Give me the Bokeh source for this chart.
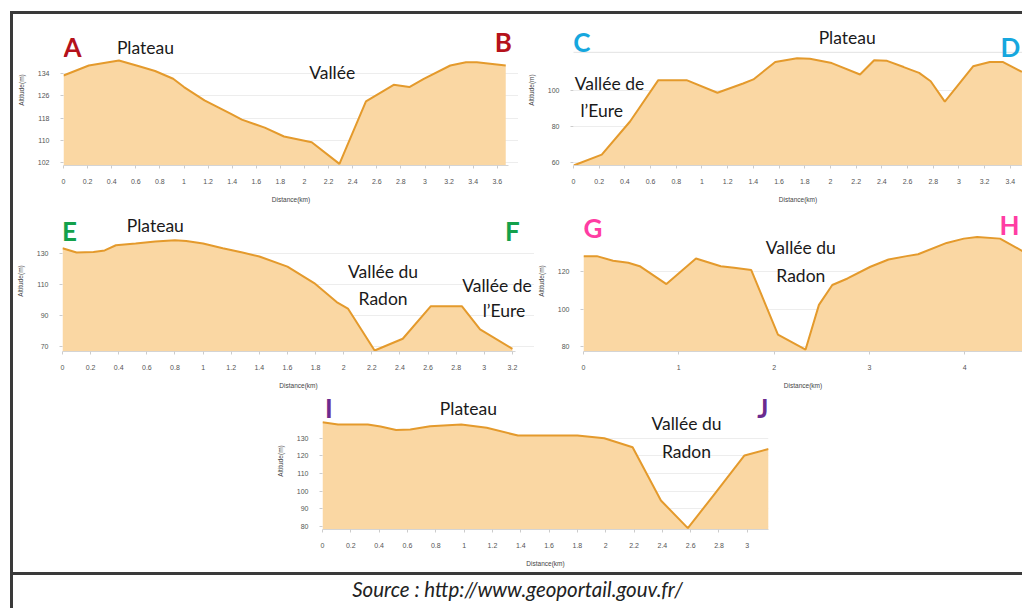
from bokeh.plotting import figure
from bokeh.models import Range1d, FixedTicker, Label, Span, Div, Spacer, ColumnDataSource
from bokeh.layouts import row, column
from bokeh.embed import file_html
from bokeh.resources import INLINE

# ---------------- data ----------------
ab_km = [0, 0.21, 0.46, 0.62, 0.76, 0.91, 1.0, 1.17, 1.39, 1.48, 1.67, 1.83, 2.06, 2.29, 2.51, 2.74, 2.87, 2.99, 3.21, 3.34, 3.43, 3.67]
ab_alt = [133.4, 137.0, 138.8, 136.8, 135.0, 132.2, 129.2, 124.4, 119.5, 117.4, 114.5, 111.3, 109.2, 101.4, 124.0, 130.0, 129.2, 132.2, 137.0, 138.2, 138.2, 137.0]

cd_km = [0, 0.22, 0.44, 0.66, 0.88, 1.12, 1.32, 1.40, 1.57, 1.74, 1.84, 2.01, 2.23, 2.34, 2.44, 2.57, 2.69, 2.78, 2.89, 3.11, 3.24, 3.34, 3.49]
cd_alt = [58.5, 64.5, 82.7, 105.4, 105.4, 98.5, 103.6, 105.8, 115.4, 117.5, 117.2, 114.8, 108.5, 116.3, 116.0, 112.6, 109.4, 104.8, 93.6, 113.0, 115.4, 115.4, 110.0]

ef_km = [0, 0.1, 0.22, 0.3, 0.38, 0.52, 0.66, 0.8, 0.88, 1.0, 1.14, 1.28, 1.4, 1.6, 1.79, 1.95, 2.03, 2.22, 2.42, 2.62, 2.84, 2.97, 3.2]
ef_alt = [133.4, 130.6, 131.0, 132.0, 135.3, 136.4, 137.7, 138.5, 138.1, 136.4, 133.4, 130.6, 128.1, 121.5, 110.9, 98.7, 94.5, 67.4, 75.0, 96.0, 96.0, 81.0, 68.5]

gh_km = [0, 0.14, 0.31, 0.47, 0.59, 0.87, 1.18, 1.44, 1.58, 1.76, 2.04, 2.33, 2.47, 2.61, 2.77, 3.01, 3.2, 3.39, 3.51, 3.81, 3.99, 4.13, 4.37, 4.62]
gh_alt = [128.4, 128.4, 125.9, 124.8, 123.0, 113.4, 127.1, 123.0, 122.1, 120.9, 86.2, 78.2, 102.2, 112.9, 116.4, 122.7, 126.6, 128.4, 129.4, 135.5, 137.8, 138.7, 137.8, 130.7]

ij_km = [0, 0.11, 0.32, 0.41, 0.52, 0.62, 0.76, 0.98, 1.16, 1.38, 1.47, 1.8, 1.99, 2.19, 2.39, 2.58, 2.76, 2.98, 3.15]
ij_alt = [139.1, 137.8, 137.8, 136.6, 134.7, 134.9, 136.8, 137.8, 135.9, 131.5, 131.5, 131.5, 130.0, 124.9, 94.6, 78.9, 97.4, 120.2, 123.9]

ab_xticks = [0, 0.2, 0.4, 0.6, 0.8, 1, 1.2, 1.4, 1.6, 1.8, 2, 2.2, 2.4, 2.6, 2.8, 3, 3.2, 3.4, 3.6]
ab_xlabels = ["0", "0.2", "0.4", "0.6", "0.8", "1", "1.2", "1.4", "1.6", "1.8", "2", "2.2", "2.4", "2.6", "2.8", "3", "3.2", "3.4", "3.6"]
ab_yticks = [102, 110, 118, 126, 134]

cd_xticks = ab_xticks[:18]
cd_xlabels = ab_xlabels[:18]
cd_yticks = [60, 80, 100]

ef_xticks = ab_xticks[:17]
ef_xlabels = ab_xlabels[:17]
ef_yticks = [70, 90, 110, 130]

gh_xticks = [0, 1, 2, 3, 4]
gh_xlabels = ["0", "1", "2", "3", "4"]
gh_yticks = [80, 100, 120]

ij_xticks = ab_xticks[:16]
ij_xlabels = ab_xlabels[:16]
ij_yticks = [80, 90, 100, 110, 120, 130]

source_text = "Source : http://www.geoportail.gouv.fr/"

FILL = "#FAD7A3"
LINE = "#E49A2C"
TXT_FONT = "Lato"


def profile(canvas_x, width, height, row_top, br, bb, zero_px, px_km, yref, yref_px, px_m,
            km, alt, xticks, xlabels, yticks, axis_end):
    # pixel placement of the frame -> visible data ranges
    bl = int(round(zero_px - canvas_x))
    frame_right = canvas_x + width - br
    frame_bottom = row_top + height - bb
    x1 = (frame_right - zero_px) / px_km
    y0 = yref - (frame_bottom - yref_px) / px_m
    y1 = yref + (yref_px - row_top) / px_m
    p = figure(width=width, height=height, x_range=Range1d(0, x1), y_range=Range1d(y0, y1),
               output_backend="svg", toolbar_location=None,
               min_border_left=bl, min_border_right=br, min_border_top=0, min_border_bottom=bb)
    p.outline_line_color = None
    src = ColumnDataSource(dict(km=km, alt=alt))
    p.varea(x="km", y1=y0, y2="alt", source=src, fill_color=FILL, fill_alpha=1.0)
    p.line(x="km", y="alt", source=src, line_color=LINE, line_width=2)
    p.xaxis.ticker = FixedTicker(ticks=xticks)
    p.xaxis.major_label_overrides = {t: l for t, l in zip(xticks, xlabels)}
    p.xaxis.bounds = (0, axis_end)
    p.yaxis.ticker = FixedTicker(ticks=yticks)
    p.ygrid.ticker = FixedTicker(ticks=yticks)
    p.xgrid.grid_line_color = None
    p.ygrid.grid_line_color = "#ededed"
    p.xaxis.axis_label = "Distance(km)"
    p.yaxis.axis_label = "Altitude(m)"
    for ax in (p.xaxis[0], p.yaxis[0]):
        ax.major_label_text_font = "Liberation Sans"
        ax.major_label_text_font_size = "7px"
        ax.major_label_text_color = "#555555"
        ax.axis_label_text_font = "Liberation Sans"
        ax.axis_label_text_font_size = "6.5px"
        ax.axis_label_text_font_style = "normal"
        ax.axis_label_text_color = "#444444"
        ax.minor_tick_line_color = None
        ax.major_tick_in = 0
        ax.major_tick_out = 3
        ax.major_tick_line_color = "#cccccc"
        ax.axis_line_color = "#d4d4d4"
    p.xaxis.major_label_standoff = 10
    p.xaxis.axis_label_standoff = 9
    p.yaxis.major_label_standoff = 11
    p.yaxis.axis_label_standoff = 10
    p.yaxis.axis_line_color = None
    return p


def lab(p, x, y, text, size="17.5px", color="#1a1a1a", bold=False):
    p.add_layout(Label(x=x, y=y, text=text, text_font=TXT_FONT, text_font_size=size,
                       text_color=color, text_align="center", text_baseline="middle",
                       text_font_style="bold" if bold else "normal"))


LETTER = "26px"

# A-B
pA = profile(13, 505, 196, 14, 0, 45, 63, 120.5, 102, 161.7, 2.7625,
             ab_km, ab_alt, ab_xticks, ab_xlabels, ab_yticks, 3.69)
lab(pA, 0.075, 143.6, "A", LETTER, "#B5121B", True)
lab(pA, 0.68, 143.6, "Plateau")
lab(pA, 3.65, 145.4, "B", LETTER, "#B5121B", True)
lab(pA, 2.23, 134.5, "Vallée")

# C-D
pC = profile(518, 504, 196, 14, 0, 44, 573.3, 128.4, 60, 163.3, 1.8325,
             cd_km, cd_alt, cd_xticks, cd_xlabels, cd_yticks, 3.6)
pC.add_layout(Span(location=120.7, dimension="width", line_color="#c4c4c4", line_dash="1 1", line_width=1))
lab(pC, 0.065, 126.1, "C", LETTER, "#16A7DE", True)
lab(pC, 3.4, 123.4, "D", LETTER, "#16A7DE", True)
lab(pC, 2.13, 128.8, "Plateau")
lab(pC, 0.28, 103.7, "Vallée de")
lab(pC, 0.22, 89.0, "l’Eure")

# E-F
pE = profile(13, 521, 182, 210, 0, 41, 62, 140.6, 70, 346, 1.55,
             ef_km, ef_alt, ef_xticks, ef_xlabels, ef_yticks, 3.22)
lab(pE, 0.05, 144.8, "E", LETTER, "#13A14B", True)
lab(pE, 0.66, 148.0, "Plateau")
lab(pE, 3.2, 144.8, "F", LETTER, "#13A14B", True)
lab(pE, 2.28, 118.4, "Vallée du")
lab(pE, 2.28, 101.0, "Radon")
lab(pE, 3.09, 109.4, "Vallée de")
lab(pE, 3.14, 93.2, "l’Eure")

# G-H
pG = profile(534, 488, 182, 210, 0, 40, 581.7, 95.6, 80, 346.7, 1.875,
             gh_km, gh_alt, gh_xticks, gh_xlabels, gh_yticks, 4.7)
lab(pG, 0.1, 143.3, "G", LETTER, "#FF3DA3", True)
lab(pG, 2.28, 133.2, "Vallée du")
lab(pG, 2.28, 118.2, "Radon")
lab(pG, 4.47, 145.3, "H", LETTER, "#FF3DA3", True)

# I-J
pI = profile(270, 510, 180, 392, 12, 43, 321.7, 141.7, 80, 525.7, 1.76,
             ij_km, ij_alt, ij_xticks, ij_xlabels, ij_yticks, 3.15)
lab(pI, 0.045, 147.4, "I", LETTER, "#6B2B8F", True)
lab(pI, 1.03, 146.9, "Plateau")
lab(pI, 3.11, 147.2, "J", LETTER, "#6B2B8F", True)
lab(pI, 2.57, 138.4, "Vallée du")
lab(pI, 2.57, 122.4, "Radon")

DARK = "#3a3a3a"
W = 1009
left_line = Div(text="", width=3, height=597, margin=(11, 0, 0, 10), styles={"background-color": DARK})
top_line = Div(text="", width=W, height=3, margin=(11, 0, 0, 0), styles={"background-color": DARK})
divider = Div(text="", width=W, height=3, margin=(0, 0, 0, 0), styles={"background-color": DARK})
src_div = Div(text=f'<div style="width:{W - 10}px;padding-left:10px;text-align:center;font-family:Lato;'
                   f'font-style:italic;font-size:20.5px;line-height:29px;color:#222">{source_text}</div>',
              width=W, height=33, margin=(0, 0, 0, 0))

row1 = row(pA, pC, spacing=0)
row2 = row(pE, pG, spacing=0)
row3 = row(Spacer(width=257, height=180), pI, Spacer(width=242, height=180), spacing=0)
main = column(top_line, row1, row2, row3, divider, src_div, spacing=0)
layout = row(left_line, main, spacing=0)

open("out.html", "w", encoding="utf-8").write(file_html(layout, INLINE))
